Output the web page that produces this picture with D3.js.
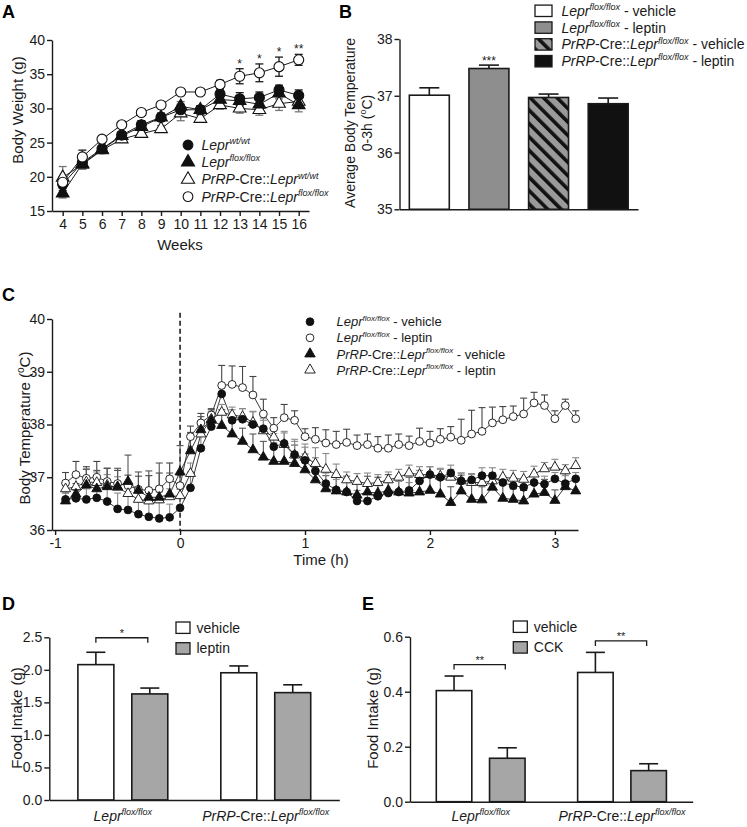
<!DOCTYPE html>
<html><head><meta charset="utf-8">
<script src="https://cdn.jsdelivr.net/npm/d3@7"></script>
<style>body{margin:0;background:#fff}svg{display:block}</style>
</head><body><svg id="c" width="747" height="827"></svg>
<script>
// ================= DATA =================
// Panel A : body weight (g) by week
const weeks = [4,5,6,7,8,9,10,11,12,13,14,15,16];
const aWtMean   = [18.9,22.1,24.1,26.1,27.6,28.7,29.8,29.8,32.1,31.4,31.6,32.7,31.9];
const aWtSem    = [0.9,0.6,0.5,0.5,0.6,0.6,0.8,0.6,0.6,0.9,0.8,0.7,0.8];
const aFloxMean = [17.6,21.9,24.0,26.0,27.3,28.7,30.3,29.8,31.3,31.1,30.6,32.2,30.5];
const aFloxSem  = [0.7,0.8,0.5,0.5,0.6,0.6,0.7,0.6,0.7,0.7,0.7,0.8,1.0];
const aCreWtMean= [19.9,21.8,23.9,25.5,26.3,27.0,29.3,28.5,30.5,30.0,29.8,30.7,31.0];
const aCreWtSem = [1.6,0.6,0.5,0.4,0.4,0.5,1.1,0.5,0.6,0.7,0.8,1.0,0.8];
const aCreFfMean= [19.2,22.9,25.5,27.6,29.4,30.5,32.4,32.4,33.5,34.7,35.2,36.1,37.1];
const aCreFfSem = [0.8,1.0,0.5,0.3,0.3,0.3,0.3,0.4,0.6,1.1,1.3,1.4,0.8];
const aStarWeeks = [13,14,15,16];
const aStarText  = ["*","*","*","**"];
const aYTicks = [15,20,25,30,35,40];

// Panel B : average body temperature 0-3h
const bGroups = ["Lepr vehicle","Lepr leptin","Cre vehicle","Cre leptin"];
const bMeans  = [37.01,37.48,36.97,36.86];
const bSems   = [0.13,0.06,0.06,0.10];
const bStars  = ["","***","",""];
const bYTicks = [35,36,37,38];

// Panel C : body temperature time course (minutes from injection)
const cTimes = [-55,-50,-45,-40,-35,-30,-25,-20,-15,-10,-5,0,5,10,15,20,25,30,35,40,45,50,55,60,65,70,75,80,85,90,95,100,105,110,115,120,125,130,135,140,145,150,155,160,165,170,175,180,185,190];
const cFfVeh = [36.58,36.60,36.58,36.61,36.54,36.40,36.38,36.30,36.25,36.22,36.24,36.42,
  36.80,37.55,37.96,38.58,38.08,38.10,38.00,37.92,37.58,37.64,37.43,37.32,37.12,36.88,36.76,36.72,36.55,36.55,36.64,36.70,36.72,36.75,36.93,37.05,37.00,37.08,36.93,36.95,37.03,37.03,36.90,36.84,36.81,36.90,36.87,36.97,36.88,36.97];
const cFfVehSem = [0.15,0.15,0.2,0.2,0.25,0.3,0.35,0.3,0.3,0.3,0.25,0.35,
  0.3,0.25,0.2,0.15,0.2,0.2,0.25,0.2,0.25,0.2,0.25,0.25,0.25,0.2,0.2,0.2,0.2,0.15,0.2,0.2,0.2,0.15,0.2,0.15,0.15,0.15,0.15,0.12,0.15,0.15,0.12,0.15,0.15,0.15,0.15,0.12,0.15,0.12];
const cFfLep = [36.89,37.05,36.98,37.00,36.92,36.88,36.84,36.77,36.75,36.78,36.97,36.84,
  37.77,38.03,38.18,38.74,38.76,38.70,38.56,38.20,37.93,38.13,38.08,37.77,37.72,37.65,37.62,37.66,37.60,37.62,37.55,37.55,37.62,37.60,37.68,37.65,37.72,37.76,37.70,37.82,37.87,38.03,38.09,38.15,38.20,38.41,38.36,38.11,38.36,38.11];
const cFfLepSem = [0.2,0.25,0.22,0.3,0.25,0.25,0.2,0.25,0.28,0.3,0.3,0.2,
  0.2,0.18,0.12,0.38,0.35,0.4,0.35,0.28,0.2,0.25,0.18,0.15,0.22,0.25,0.25,0.25,0.2,0.2,0.22,0.25,0.2,0.18,0.25,0.22,0.2,0.2,0.4,0.45,0.45,0.3,0.25,0.2,0.3,0.2,0.2,0.15,0.12,0.15];
const cCreVeh = [36.55,36.68,36.85,36.78,36.82,36.82,36.92,36.75,36.62,36.62,36.68,37.10,
  37.50,37.90,38.08,37.98,37.82,37.68,37.52,37.38,37.30,37.30,37.26,37.14,36.95,36.78,36.74,36.72,36.66,36.72,36.70,36.75,36.72,36.70,36.72,36.75,36.68,36.52,36.74,36.58,36.57,36.81,36.60,36.58,36.55,36.68,36.71,36.56,36.82,36.74];
const cCreVehSem = [0.15,0.2,0.3,0.35,0.35,0.35,0.5,0.35,0.5,0.65,0.4,0.5,
  0.35,0.25,0.2,0.3,0.25,0.25,0.3,0.3,0.35,0.3,0.35,0.3,0.3,0.25,0.3,0.3,0.25,0.3,0.3,0.3,0.3,0.3,0.3,0.3,0.3,0.3,0.3,0.3,0.25,0.25,0.3,0.2,0.2,0.25,0.25,0.2,0.25,0.2];
const cCreLep = [36.78,36.82,36.91,36.90,36.85,36.81,36.69,36.58,36.55,36.57,36.63,36.65,
  37.07,37.82,38.10,38.23,38.18,38.15,38.04,37.88,37.76,37.62,37.42,37.38,37.26,37.15,37.05,36.95,36.92,36.88,36.90,36.95,37.00,37.08,37.05,37.05,37.02,37.00,36.93,36.90,36.90,36.93,37.00,36.98,36.96,37.06,37.16,37.19,37.12,37.22];
const cCreLepSem = [0.15,0.2,0.25,0.2,0.2,0.2,0.2,0.15,0.2,0.15,0.15,0.2,
  0.2,0.15,0.15,0.15,0.15,0.15,0.2,0.2,0.2,0.25,0.3,0.25,0.3,0.3,0.2,0.15,0.15,0.2,0.15,0.15,0.15,0.15,0.15,0.15,0.15,0.15,0.15,0.15,0.15,0.15,0.15,0.15,0.15,0.15,0.12,0.15,0.12,0.15];
const cXTicks = [-1,0,1,2,3];
const cYTicks = [36,37,38,39,40];

// Panel D : food intake, leptin
const dGroups = ["Lepr","Cre"];
const dSeries = ["vehicle","leptin"];
const dVehicle = [2.08,1.955];
const dVehicleSem = [0.19,0.105];
const dLeptin = [1.63,1.65];
const dLeptinSem = [0.09,0.12];
const dSig = ["*",""];
const dYTicks = [0,0.5,1.0,1.5,2.0,2.5];

// Panel E : food intake, CCK
const eGroups = ["Lepr","Cre"];
const eSeries = ["vehicle","CCK"];
const eVehicle = [0.404,0.47];
const eVehicleSem = [0.053,0.073];
const eCCK = [0.158,0.113];
const eCCKSem = [0.038,0.025];
const eSig = ["**","**"];
const eYTicks = [0,0.2,0.4,0.6];

// Text labels (italic / superscript parts)
const LEPR_FF = [{t:"Lepr",i:1},{t:"flox/flox",i:1,s:1}];
const CRE_FF = [{t:"PrRP",i:1},{t:"-Cre::"},{t:"Lepr",i:1},{t:"flox/flox",i:1,s:1}];
const aLegend = [
  [{t:"Lepr",i:1},{t:"wt/wt",i:1,s:1}],
  [{t:"Lepr",i:1},{t:"flox/flox",i:1,s:1}],
  [{t:"PrRP",i:1},{t:"-Cre::"},{t:"Lepr",i:1},{t:"wt/wt",i:1,s:1}],
  CRE_FF
];
const bcLegend = [
  LEPR_FF.concat([{t:" - vehicle"}]),
  LEPR_FF.concat([{t:" - leptin"}]),
  CRE_FF.concat([{t:" - vehicle"}]),
  CRE_FF.concat([{t:" - leptin"}])
];
const groupLabels = [LEPR_FF, CRE_FF];

// ================= DRAW =================
const FONT = 'Arial, "Liberation Sans", Helvetica, sans-serif';
const INK = "#1a1a1a";
const svg = d3.select("#c").attr("font-family", FONT);
const intFmt = d => String(d);

function rich(sel, parts, size) {
  const sup = Math.round(size*0.64);
  let raised = false;
  parts.forEach(p => {
    const ts = sel.append("tspan").text(p.t);
    if (p.i) ts.attr("font-style","italic");
    if (p.s) { ts.attr("font-size", sup).attr("dy", -size*0.42); raised = true; }
    else if (raised) { ts.attr("dy", size*0.42); raised = false; }
  });
  return sel;
}
function styleAxis(g) {
  g.attr("font-family", FONT).attr("font-size", 14);
  g.selectAll("path.domain").attr("stroke", INK).attr("stroke-width", 1.4);
  g.selectAll(".tick line").attr("stroke", INK).attr("stroke-width", 1.4);
  g.selectAll(".tick text").attr("fill", INK);
  return g;
}
function panelLetter(ch, x, y) {
  svg.append("text").attr("x", x).attr("y", y).attr("font-size", 18).attr("font-weight", "bold").attr("fill", "#000").text(ch);
}
function vLabel(x, y, size) {
  return svg.append("text").attr("transform", `translate(${x},${y}) rotate(-90)`).attr("text-anchor","middle")
    .attr("dy","0.35em").attr("font-size", size).attr("fill", INK);
}

// hatch pattern
const defs = svg.append("defs");
const pat = defs.append("pattern").attr("id","hatch").attr("patternUnits","userSpaceOnUse")
  .attr("width",9.5).attr("height",9.5).attr("patternTransform","rotate(-45)");
pat.append("rect").attr("width",9.5).attr("height",9.5).attr("fill","#9a9a9a");
pat.append("rect").attr("width",3.6).attr("height",9.5).attr("fill","#111");

// ---------- Panel A ----------
panelLetter("A", 2, 18);
const xA = d3.scaleLinear().domain([3.456, 16.524]).range([52, 309]);
const yA = d3.scaleLinear().domain([15, 40]).range([211, 40]);
styleAxis(svg.append("g").attr("transform","translate(0,211)")
  .call(d3.axisBottom(xA).tickValues(weeks).tickFormat(intFmt).tickSize(5).tickSizeOuter(0).tickPadding(3)));
styleAxis(svg.append("g").attr("transform","translate(52,0)")
  .call(d3.axisLeft(yA).tickValues(aYTicks).tickFormat(intFmt).tickSize(5).tickSizeOuter(0).tickPadding(2)));
vLabel(18, 110, 15).text("Body Weight (g)");
svg.append("text").attr("x", 180).attr("y", 250).attr("text-anchor","middle").attr("font-size",15).attr("fill",INK).text("Weeks");

const aSeries = [
  {mean:aCreWtMean, sem:aCreWtSem, sym:d3.symbolTriangle, fill:false, err:"#777"},
  {mean:aFloxMean,  sem:aFloxSem,  sym:d3.symbolTriangle, fill:true,  err:"#777"},
  {mean:aWtMean,    sem:aWtSem,    sym:d3.symbolCircle,   fill:true,  err:INK},
  {mean:aCreFfMean, sem:aCreFfSem, sym:d3.symbolCircle,   fill:false, err:INK}
];
const gA = svg.append("g");
aSeries.forEach(s => {
  gA.append("path").datum(weeks.map((w,i)=>[w,s.mean[i]]))
    .attr("d", d3.line().x(d=>xA(d[0])).y(d=>yA(d[1]))).attr("fill","none").attr("stroke",INK).attr("stroke-width",1);
});
aSeries.forEach(s => {
  const eb = gA.append("g").attr("stroke", s.err).attr("stroke-width", 1.3);
  weeks.forEach((w,i) => {
    const x = xA(w), y1 = yA(s.mean[i]+s.sem[i]), y2 = yA(s.mean[i]-s.sem[i]);
    eb.append("line").attr("x1",x).attr("x2",x).attr("y1",y1).attr("y2",y2);
    eb.append("line").attr("x1",x-4).attr("x2",x+4).attr("y1",y1).attr("y2",y1);
    eb.append("line").attr("x1",x-4).attr("x2",x+4).attr("y1",y2).attr("y2",y2);
  });
});
aSeries.forEach(s => {
  gA.selectAll(null).data(weeks.map((w,i)=>[w,s.mean[i]])).enter().append("path")
    .attr("d", d3.symbol().type(s.sym).size(s.sym===d3.symbolCircle?80:70))
    .attr("transform", d=>`translate(${xA(d[0])},${yA(d[1])})`)
    .attr("fill", s.fill?"#111":"#fff").attr("stroke","#111").attr("stroke-width",1.1);
});
aStarWeeks.forEach((w,k) => {
  const i = weeks.indexOf(w);
  svg.append("text").attr("x", xA(w)).attr("y", yA(aCreFfMean[i]+aCreFfSem[i]) - 1)
    .attr("text-anchor","middle").attr("font-size",12).attr("fill",INK).text(aStarText[k]);
});
const aLegSym = [
  {sym:d3.symbolCircle, fill:true}, {sym:d3.symbolTriangle, fill:true},
  {sym:d3.symbolTriangle, fill:false}, {sym:d3.symbolCircle, fill:false}
];
aLegend.forEach((parts,k) => {
  const y = 145 + k*17.2;
  svg.append("path").attr("d", d3.symbol().type(aLegSym[k].sym).size(75)).attr("transform",`translate(188,${y})`)
    .attr("fill", aLegSym[k].fill?"#111":"#fff").attr("stroke","#111").attr("stroke-width",1.1);
  rich(svg.append("text").attr("x",201.5).attr("y",y).attr("dy","0.36em").attr("font-size",14).attr("fill",INK), parts, 14);
});

// ---------- Panel B ----------
panelLetter("B", 339, 17.5);
const xB = d3.scaleBand().domain(bGroups).range([399.5, 638]).paddingInner(0.33).paddingOuter(0.165);
const yB = d3.scaleLinear().domain([35, 38]).range([209.3, 39]);
const bFills = ["#fff","#8e8e8e","url(#hatch)","#111"];
const gB = svg.append("g");
gB.selectAll("rect").data(bGroups).enter().append("rect")
  .attr("x", d=>xB(d)).attr("width", xB.bandwidth())
  .attr("y", (d,i)=>yB(bMeans[i])).attr("height", (d,i)=>yB(35)-yB(bMeans[i]))
  .attr("fill", (d,i)=>bFills[i]).attr("stroke", INK).attr("stroke-width", 1.6);
bGroups.forEach((g,i) => {
  const cx = xB(g)+xB.bandwidth()/2, top = yB(bMeans[i]+bSems[i]);
  gB.append("line").attr("x1",cx).attr("x2",cx).attr("y1",yB(bMeans[i])).attr("y2",top).attr("stroke",INK).attr("stroke-width",1.6);
  gB.append("line").attr("x1",cx-10).attr("x2",cx+10).attr("y1",top).attr("y2",top).attr("stroke",INK).attr("stroke-width",1.6);
  if (bStars[i]) gB.append("text").attr("x",cx).attr("y",top-0.5).attr("text-anchor","middle").attr("font-size",12).attr("fill",INK).text(bStars[i]);
});
styleAxis(svg.append("g").attr("transform","translate(0,209.3)")
  .call(d3.axisBottom(xB).tickSize(0).tickSizeOuter(0).tickFormat(""))).selectAll(".tick").remove();
styleAxis(svg.append("g").attr("transform","translate(399.5,0)")
  .call(d3.axisLeft(yB).tickValues(bYTicks).tickFormat(intFmt).tickSize(5).tickSizeOuter(0).tickPadding(2)));
vLabel(350,123,14).text("Average Body Temperature");
rich(vLabel(367,123,14), [{t:"0-3h ("},{t:"o",s:1},{t:"C)"}], 14);
bcLegend.forEach((parts,k) => {
  const y = 10.8 + k*16.8;
  svg.append("rect").attr("x",535).attr("y",y-5.7).attr("width",17).attr("height",11.4)
    .attr("fill", bFills[k]).attr("stroke",INK).attr("stroke-width",1.3);
  rich(svg.append("text").attr("x",561.5).attr("y",y).attr("dy","0.36em").attr("font-size",14).attr("fill",INK), parts, 14);
});

// ---------- Panel C ----------
panelLetter("C", 2, 300.5);
const xC = d3.scaleLinear().domain([-1.025, 3.185]).range([52, 578]);
const yC = d3.scaleLinear().domain([36, 40]).range([530, 319]);
styleAxis(svg.append("g").attr("transform","translate(0,530)")
  .call(d3.axisBottom(xC).tickValues(cXTicks).tickFormat(intFmt).tickSize(5).tickSizeOuter(0).tickPadding(3)));
styleAxis(svg.append("g").attr("transform","translate(52,0)")
  .call(d3.axisLeft(yC).tickValues(cYTicks).tickFormat(intFmt).tickSize(5).tickSizeOuter(0).tickPadding(2)));
rich(vLabel(25,428,15), [{t:"Body Temperature ("},{t:"o",s:1},{t:"C)"}], 15);
svg.append("text").attr("x",321).attr("y",565).attr("text-anchor","middle").attr("font-size",15).attr("fill",INK).text("Time (h)");
svg.append("line").attr("x1",xC(0)).attr("x2",xC(0)).attr("y1",yC(40.12)).attr("y2",yC(36))
  .attr("stroke","#111").attr("stroke-width",1.5).attr("stroke-dasharray","5,3");

const cSeries = [
  {mean:cFfLep,  sem:cFfLepSem,  sym:d3.symbolCircle,   fill:false, err:"#444"},
  {mean:cCreLep, sem:cCreLepSem, sym:d3.symbolTriangle, fill:false, err:"#8a8a8a"},
  {mean:cCreVeh, sem:cCreVehSem, sym:d3.symbolTriangle, fill:true,  err:"#555"},
  {mean:cFfVeh,  sem:cFfVehSem,  sym:d3.symbolCircle,   fill:true,  err:"#8a8a8a"}
];
const gC = svg.append("g");
cSeries.forEach(s => {
  gC.append("path").datum(cTimes.map((t,i)=>[t/60, s.mean[i]]))
    .attr("d", d3.line().x(d=>xC(d[0])).y(d=>yC(d[1]))).attr("fill","none").attr("stroke","#222").attr("stroke-width",0.9);
});
cSeries.forEach(s => {
  const eb = gC.append("g").attr("stroke", s.err).attr("stroke-width",1.1);
  cTimes.forEach((t,i) => {
    const x = xC(t/60), y0 = yC(s.mean[i]), y1 = yC(s.mean[i]+s.sem[i]);
    eb.append("line").attr("x1",x).attr("x2",x).attr("y1",y0).attr("y2",y1);
    eb.append("line").attr("x1",x-3.5).attr("x2",x+3.5).attr("y1",y1).attr("y2",y1);
  });
});
cSeries.forEach(s => {
  gC.selectAll(null).data(cTimes.map((t,i)=>[t/60, s.mean[i]])).enter().append("path")
    .attr("d", d3.symbol().type(s.sym).size(s.sym===d3.symbolCircle?48:44))
    .attr("transform", d=>`translate(${xC(d[0])},${yC(d[1])})`)
    .attr("fill", s.fill?"#111":"#fff").attr("stroke","#111").attr("stroke-width",0.9);
});
const cLegSym = [
  {sym:d3.symbolCircle, fill:true}, {sym:d3.symbolCircle, fill:false},
  {sym:d3.symbolTriangle, fill:true}, {sym:d3.symbolTriangle, fill:false}
];
bcLegend.forEach((parts,k) => {
  const y = 321.7 + k*16.1;
  svg.append("path").attr("d", d3.symbol().type(cLegSym[k].sym).size(48)).attr("transform",`translate(310,${y})`)
    .attr("fill", cLegSym[k].fill?"#111":"#fff").attr("stroke","#111").attr("stroke-width",0.9);
  rich(svg.append("text").attr("x",336.5).attr("y",y).attr("dy","0.36em").attr("font-size",13).attr("fill",INK), parts, 13);
});

// ---------- Bar panels D & E ----------
function groupedBars(cfg) {
  const x0 = d3.scaleBand().domain(cfg.groups).range(cfg.xr).paddingInner(cfg.pi).paddingOuter(cfg.po);
  const x1 = d3.scaleBand().domain(cfg.series).range([0, x0.bandwidth()]).paddingInner(0.333);
  const y = d3.scaleLinear().domain(cfg.yd).range(cfg.yr);
  const g = svg.append("g");
  const vals = [cfg.v1, cfg.v2], sems = [cfg.s1, cfg.s2], fills = ["#fff","#a6a6a6"];
  cfg.groups.forEach((grp,gi) => {
    cfg.series.forEach((ser,si) => {
      const bx = x0(grp)+x1(ser), v = vals[si][gi], top = y(v+sems[si][gi]), cx = bx + x1.bandwidth()/2;
      g.append("rect").attr("x",bx).attr("width",x1.bandwidth()).attr("y",y(v)).attr("height",y(0)-y(v))
        .attr("fill",fills[si]).attr("stroke",INK).attr("stroke-width",1.6);
      g.append("line").attr("x1",cx).attr("x2",cx).attr("y1",y(v)).attr("y2",top).attr("stroke",INK).attr("stroke-width",1.6);
      g.append("line").attr("x1",cx-9.5).attr("x2",cx+9.5).attr("y1",top).attr("y2",top).attr("stroke",INK).attr("stroke-width",1.6);
    });
    if (cfg.sig[gi]) {
      const c1 = x0(grp)+x1(cfg.series[0])+x1.bandwidth()/2, c2 = x0(grp)+x1(cfg.series[1])+x1.bandwidth()/2 - 2;
      const topMax = Math.min(y(vals[0][gi]+sems[0][gi]), y(vals[1][gi]+sems[1][gi]));
      const by = topMax - cfg.bOff;
      g.append("path").attr("d", `M${c1},${by+5}V${by}H${c2}V${by+5}`).attr("fill","none").attr("stroke",INK).attr("stroke-width",1.3);
      g.append("text").attr("x",(c1+c2)/2).attr("y",by-0.5).attr("text-anchor","middle").attr("font-size",11).attr("fill",INK).text(cfg.sig[gi]);
    }
    rich(svg.append("text").attr("x", x0(grp)+x0.bandwidth()/2).attr("y", cfg.labY).attr("text-anchor","middle")
      .attr("font-size",14).attr("fill",INK), groupLabels[gi], 14);
  });
  styleAxis(svg.append("g").attr("transform",`translate(0,${cfg.yr[0]})`)
    .call(d3.axisBottom(x0).tickSize(0).tickSizeOuter(0).tickFormat(""))).selectAll(".tick").remove();
  styleAxis(svg.append("g").attr("transform",`translate(${cfg.xr[0]},0)`)
    .call(d3.axisLeft(y).tickValues(cfg.ticks).tickFormat(d3.format(".1f")).tickSize(5).tickSizeOuter(0).tickPadding(2)));
  vLabel(cfg.ylx, 718, 15).text("Food Intake (g)");
  cfg.series.forEach((ser,si) => {
    const ly = cfg.legY + si*20.7;
    svg.append("rect").attr("x",cfg.legX).attr("y",ly-5.7).attr("width",14).attr("height",11.4)
      .attr("fill",fills[si]).attr("stroke",INK).attr("stroke-width",1.3);
    svg.append("text").attr("x",cfg.legX+20.5).attr("y",ly).attr("dy","0.36em").attr("font-size",14).attr("fill",INK).text(ser);
  });
}
panelLetter("D", 2, 610);
groupedBars({groups:dGroups, series:dSeries, v1:dVehicle, s1:dVehicleSem, v2:dLeptin, s2:dLeptinSem, sig:dSig,
  xr:[49.3,339.3], pi:0.371, po:0.2, yd:[0,2.5], yr:[800,637.3], ticks:dYTicks, bOff:14.5, labY:821,
  ylx:16.7, legX:176, legY:627.7});
panelLetter("E", 362, 610);
groupedBars({groups:eGroups, series:eSeries, v1:eVehicle, s1:eVehicleSem, v2:eCCK, s2:eCCKSem, sig:eSig,
  xr:[410,692.7], pi:0.372, po:0.186, yd:[0,0.6], yr:[801.7,636.7], ticks:eYTicks, bOff:11.5, labY:821,
  ylx:373, legX:513.3, legY:626.7});
</script></body></html>
